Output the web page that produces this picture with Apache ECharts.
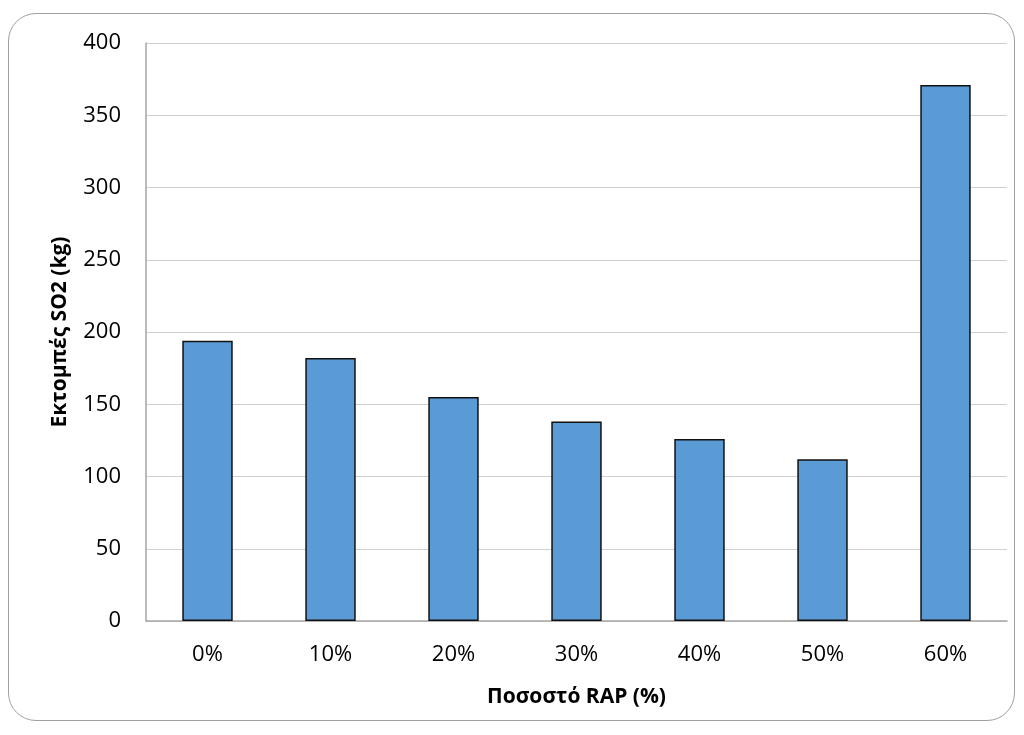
<!DOCTYPE html>
<html>
<head>
<meta charset="utf-8">
<script src="https://cdn.jsdelivr.net/npm/echarts@6/dist/echarts.min.js"></script>
<style>
  html, body { margin: 0; padding: 0; background: #ffffff; }
  #frame {
    position: absolute; left: 8px; top: 13px; width: 1007px; height: 708px;
    border: 1.5px solid #a0a0a0; border-radius: 28px; box-sizing: border-box;
  }
  #chart { position: absolute; left: 0; top: 0; width: 1024px; height: 735px; }
</style>
</head>
<body>
<div id="frame"></div>
<div id="chart"></div>
<script>
// RAP share in the mix and the resulting SO2 emissions
const categories = ['0%', '10%', '20%', '30%', '40%', '50%', '60%'];
const so2Emissions = [194, 182, 155, 138, 126, 112, 371];

const chart = echarts.init(document.getElementById('chart'), null, { renderer: 'canvas' });
const font = '"Open Sans", "DejaVu Sans", sans-serif';

chart.setOption({
  backgroundColor: 'transparent',
  animation: false,
  grid: { left: 146, top: 43, right: 17, bottom: 114, containLabel: false },
  xAxis: {
    type: 'category',
    data: categories,
    name: 'Ποσοστό RAP (%)',
    nameLocation: 'middle',
    nameGap: 66,
    nameTextStyle: { fontFamily: font, fontSize: 21, fontWeight: 'bold', color: '#000' },
    axisLine: { lineStyle: { color: '#a6a6a6', width: 1.5 } },
    axisTick: { show: false },
    axisLabel: { fontFamily: font, fontSize: 22, color: '#000', margin: 23 }
  },
  yAxis: {
    type: 'value',
    min: 0, max: 400, interval: 50,
    name: 'Εκτομπές SO2 (kg)',
    nameLocation: 'middle',
    nameRotate: 90,
    nameGap: 75,
    nameTextStyle: { fontFamily: font, fontSize: 21, fontWeight: 'bold', color: '#000' },
    axisLine: { show: true, lineStyle: { color: '#a6a6a6', width: 1.5 } },
    axisTick: { show: false },
    axisLabel: { fontFamily: font, fontSize: 22, color: '#000', margin: 25 },
    splitLine: { lineStyle: { color: '#d0d0d0', width: 1.2 } }
  },
  series: [{
    type: 'bar',
    data: so2Emissions,
    barWidth: '41%',
    itemStyle: { color: '#5b9bd5', borderColor: '#111', borderWidth: 1.5 }
  }]
});
</script>
</body>
</html>
